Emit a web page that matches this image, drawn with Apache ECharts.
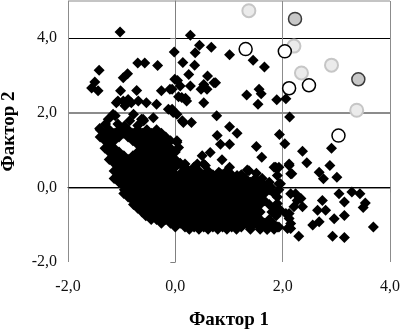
<!DOCTYPE html>
<html>
<head>
<meta charset="utf-8">
<script src="https://cdn.jsdelivr.net/npm/echarts@6/dist/echarts.min.js"></script>
<style>
  html, body { margin: 0; padding: 0; background: #fff; }
  #chart { width: 401px; height: 332px; }
</style>
</head>
<body>
<div id="chart"></div>
<script>
// scattered points around the cloud
var outerPoints = [
  [-1.03,4.17],[-1.42,3.14],[-1.50,2.83],[-1.56,2.67],[-1.44,2.59],[-0.70,3.34],[-0.57,3.34],[-0.33,3.27],
  [-0.97,2.94],[-0.89,3.05],[-0.02,3.63],[-1.02,2.59],[-0.72,2.60],[-0.26,2.59],[-0.10,2.63],[-0.01,2.90],
  [-1.07,2.32],[-0.88,2.36],[-0.69,2.32],[-0.54,2.27],[-0.35,2.23],[-0.07,2.07],[-0.60,1.83],[-0.41,1.87],
  [-1.10,2.27],[-0.94,2.19],[-0.82,2.27],[-0.13,2.10],[-0.04,2.01],[0.30,1.74],[0.15,1.74],[0.12,2.41],
  [0.21,2.32],[-0.97,2.32],[-0.78,1.96],[-0.59,1.79],
  [0.28,4.08],[0.45,3.81],[0.67,3.76],[0.37,3.61],[1.01,3.56],[1.45,3.41],[1.66,3.23],[0.14,3.35],
  [0.36,3.28],[0.25,3.03],[0.04,2.87],[0.09,2.72],[0.28,2.72],[0.53,2.76],[0.60,2.99],[0.72,2.81],
  [0.48,2.63],[0.59,2.63],[0.06,2.43],[0.19,2.39],[0.53,2.27],[1.33,2.48],[1.56,2.63],[1.60,2.51],
  [1.54,2.23],[1.89,2.35],[2.06,2.38],[-0.06,2.63],[-0.06,2.10],[0.03,1.96],[0.13,1.79],[0.77,1.92],
  [1.01,1.63],[1.15,1.45],[0.78,1.39],[1.94,1.42],[2.13,1.89],[0.75,2.81],
  [2.04,1.17],[2.37,0.97],[2.45,0.66],[2.91,1.05],[2.88,0.59],[1.51,1.10],[1.61,0.81],[2.12,0.63],
  [2.17,0.37],[2.68,0.41],[2.76,0.23],[3.01,0.27],[1.93,0.54],[3.05,-0.17],[3.29,-0.12],[3.44,-0.17],
  [3.54,-0.42],[3.50,-0.54],[3.15,-0.39],[3.15,-0.75],[2.74,-0.35],[2.80,-0.61],[2.65,-0.61],[2.96,-0.84],
  [2.68,-0.92],[2.56,-1.01],[3.69,-1.06],[2.93,-1.31],[3.15,-1.34],[2.30,-1.31],[2.24,-0.17],[2.34,-0.30],
  [2.37,-0.52],[2.21,-0.52],[1.93,0.10],[1.90,-0.26],[1.96,-0.61],[2.12,-0.70],[1.93,-1.06],[2.15,-1.10],
  [2.12,-0.83],
  [1.01,1.16],[0.84,1.16],[0.03,1.21],[0.65,0.94],[0.50,0.85],[0.87,0.74],[0.53,0.63],[1.01,0.54],
  [0.81,0.41],[1.15,0.32],[1.34,0.47],[1.51,0.38],[1.84,0.54],[1.90,0.32],[0.09,0.63],[0.25,0.41],
  [0.41,0.63],[0.56,0.59],[0.84,0.37],[1.37,0.45],[1.87,0.54],[2.12,0.59],[2.15,0.37],[1.78,0.01],
  [1.96,0.10],[2.15,-0.17],[2.27,-0.35],[1.90,-0.43],[2.06,-0.70],[2.15,-0.97],[2.09,-1.10]
];

// left arm of the cloud
var armPoints = [
  [-1.41,1.58],[-1.25,1.83],[-1.12,1.92],[-1.16,1.96],[-0.85,1.79],[-0.63,1.83],[-1.07,1.70],[-1.30,1.70],
  [-0.95,1.65],[-0.70,1.66],[0.03,1.25],[0.06,1.07],[0.18,0.63],[0.12,0.41],[0.24,0.37],[0.37,0.50],
  [-1.40,1.55],[-1.23,1.55],[-1.05,1.55],[-0.88,1.55],[-0.70,1.55],[-0.53,1.55],[-0.35,1.55],
  [-1.31,1.45],[-1.14,1.45],[-0.96,1.45],[-0.79,1.45],[-0.61,1.45],[-0.44,1.45],[-0.26,1.45],
  [-1.40,1.35],[-1.23,1.35],[-1.05,1.35],[-0.88,1.35],[-0.70,1.35],[-0.53,1.35],[-0.35,1.35],[-0.18,1.35],
  [-1.31,1.25],[-1.14,1.25],[-0.79,1.25],[-0.61,1.25],[-0.44,1.25],[-0.26,1.25],[-0.09,1.25],
  [-1.23,1.15],[-0.70,1.15],[-0.53,1.15],[-0.35,1.15],[-0.18,1.15],
  [-1.31,1.05],[-1.14,1.05],[-0.61,1.05],[-0.44,1.05],[-0.26,1.05],[-0.09,1.05],
  [-1.23,0.95],[-1.05,0.95],[-0.70,0.95],[-0.53,0.95],[-0.35,0.95],[-0.18,0.95],[0.00,0.95],
  [-1.14,0.85],[-0.96,0.85],[-0.79,0.85],[-0.61,0.85],[-0.44,0.85],[-0.26,0.85],[-0.09,0.85],
  [-1.23,0.75],[-1.05,0.75],[-0.88,0.75],[-0.70,0.75],[-0.53,0.75],[-0.35,0.75],[-0.18,0.75],[0.00,0.75],
  [-1.14,0.65],[-0.96,0.65],[-0.79,0.65],[-0.61,0.65],[-0.44,0.65],[-0.26,0.65],[-0.09,0.65],[0.09,0.65],
  [-1.05,0.55],[-0.88,0.55],[-0.70,0.55],[-0.53,0.55],[-0.35,0.55],[-0.18,0.55],[0.00,0.55],[0.18,0.55],[0.35,0.55]
];

// dense core of the cloud
var corePoints = [
  [-1.14,0.44],[-0.96,0.44],[-0.79,0.44],[-0.61,0.44],[-0.44,0.44],[-0.26,0.44],[-0.09,0.44],[0.44,0.44],[0.61,0.44],[0.96,0.44],
  [-1.05,0.34],[-0.88,0.34],[-0.70,0.34],[-0.53,0.34],[-0.35,0.34],[-0.18,0.34],[0.00,0.34],[0.18,0.34],[0.35,0.34],[0.53,0.34],[0.70,0.34],[0.88,0.34],[1.05,0.34],[1.23,0.34],
  [-1.14,0.24],[-0.96,0.24],[-0.79,0.24],[-0.61,0.24],[-0.44,0.24],[-0.26,0.24],[-0.09,0.24],[0.09,0.24],[0.26,0.24],[0.44,0.24],[0.61,0.24],[0.79,0.24],[0.96,0.24],[1.14,0.24],[1.31,0.24],[1.49,0.24],[1.62,0.24],
  [-1.05,0.14],[-0.88,0.14],[-0.70,0.14],[-0.53,0.14],[-0.35,0.14],[-0.18,0.14],[0.00,0.14],[0.18,0.14],[0.35,0.14],[0.53,0.14],[0.70,0.14],[0.88,0.14],[1.05,0.14],[1.23,0.14],[1.40,0.14],[1.58,0.14],[1.75,0.14],
  [-0.96,0.04],[-0.79,0.04],[-0.61,0.04],[-0.44,0.04],[-0.26,0.04],[-0.09,0.04],[0.09,0.04],[0.26,0.04],[0.44,0.04],[0.61,0.04],[0.79,0.04],[0.96,0.04],[1.14,0.04],[1.31,0.04],[1.49,0.04],[1.66,0.04],
  [-0.95,-0.06],[-0.88,-0.06],[-0.70,-0.06],[-0.53,-0.06],[-0.35,-0.06],[-0.18,-0.06],[0.00,-0.06],[0.18,-0.06],[0.35,-0.06],[0.53,-0.06],[0.70,-0.06],[0.88,-0.06],[1.05,-0.06],[1.23,-0.06],[1.40,-0.06],[1.58,-0.06],[1.75,-0.06],[1.93,-0.06],
  [-0.96,-0.16],[-0.79,-0.16],[-0.61,-0.16],[-0.44,-0.16],[-0.26,-0.16],[-0.09,-0.16],[0.09,-0.16],[0.26,-0.16],[0.44,-0.16],[0.61,-0.16],[0.79,-0.16],[0.96,-0.16],[1.14,-0.16],[1.31,-0.16],[1.49,-0.16],[1.66,-0.16],[1.84,-0.16],
  [-0.88,-0.26],[-0.70,-0.26],[-0.53,-0.26],[-0.35,-0.26],[-0.18,-0.26],[0.00,-0.26],[0.18,-0.26],[0.35,-0.26],[0.53,-0.26],[0.70,-0.26],[0.88,-0.26],[1.05,-0.26],[1.23,-0.26],[1.40,-0.26],[1.58,-0.26],
  [-0.79,-0.36],[-0.61,-0.36],[-0.44,-0.36],[-0.26,-0.36],[-0.09,-0.36],[0.09,-0.36],[0.26,-0.36],[0.44,-0.36],[0.61,-0.36],[0.79,-0.36],[0.96,-0.36],[1.14,-0.36],[1.31,-0.36],[1.49,-0.36],[1.66,-0.36],
  [-0.78,-0.46],[-0.70,-0.46],[-0.53,-0.46],[-0.35,-0.46],[-0.18,-0.46],[0.00,-0.46],[0.18,-0.46],[0.35,-0.46],[0.53,-0.46],[0.70,-0.46],[0.88,-0.46],[1.05,-0.46],[1.23,-0.46],[1.40,-0.46],[1.58,-0.46],[1.75,-0.46],
  [-0.70,-0.56],[-0.61,-0.56],[-0.44,-0.56],[-0.26,-0.56],[-0.09,-0.56],[0.09,-0.56],[0.26,-0.56],[0.44,-0.56],[0.61,-0.56],[0.79,-0.56],[0.96,-0.56],[1.14,-0.56],[1.31,-0.56],[1.49,-0.56],[1.84,-0.56],
  [-0.62,-0.66],[-0.53,-0.66],[-0.35,-0.66],[-0.18,-0.66],[0.00,-0.66],[0.18,-0.66],[0.35,-0.66],[0.53,-0.66],[0.70,-0.66],[0.88,-0.66],[1.05,-0.66],[1.23,-0.66],[1.40,-0.66],[1.58,-0.66],[1.80,-0.66],
  [-0.55,-0.76],[-0.44,-0.76],[-0.26,-0.76],[-0.09,-0.76],[0.09,-0.76],[0.26,-0.76],[0.44,-0.76],[0.61,-0.76],[0.79,-0.76],[0.96,-0.76],[1.14,-0.76],[1.31,-0.76],[1.49,-0.76],[1.88,-0.76],
  [-0.45,-0.86],[-0.35,-0.86],[-0.18,-0.86],[0.00,-0.86],[0.18,-0.86],[0.35,-0.86],[0.53,-0.86],[0.70,-0.86],[0.88,-0.86],[1.05,-0.86],[1.23,-0.86],[1.40,-0.86],[1.58,-0.86],[1.75,-0.86],
  [-0.26,-0.96],[-0.09,-0.96],[0.09,-0.96],[0.26,-0.96],[0.44,-0.96],[0.61,-0.96],[0.79,-0.96],[0.96,-0.96],[1.14,-0.96],[1.31,-0.96],[1.49,-0.96],[1.66,-0.96],[1.82,-0.96],
  [0.00,-1.06],[0.18,-1.06],[0.35,-1.06],[0.53,-1.06],[0.70,-1.06],[0.88,-1.06],[1.05,-1.06],[1.23,-1.06],[1.40,-1.06],[1.58,-1.06],[1.75,-1.06],[1.90,-1.06],
  [0.26,-1.12],[0.44,-1.12],[0.61,-1.12],[0.79,-1.12],[0.96,-1.12],[1.14,-1.12],[1.40,-1.12],[1.58,-1.12],[1.71,-1.13],[1.84,-1.12]
];

// marked objects
var lightCircles = [[1.37,4.74],[2.21,3.79],[2.35,3.07],[2.91,3.28],[3.38,2.07]];
var darkCircles = [[2.23,4.52],[3.41,2.90]];
var whiteCircles = [[1.31,3.71],[2.04,3.65],[2.12,2.66],[2.49,2.74],[3.04,1.39]];

var xTicks = [-2, 0, 2, 4];
var yTicks = [-2, 0, 2, 4];

var chart = echarts.init(document.getElementById('chart'));

function fmt(v) {
    return v.toFixed(1).replace('.', ',');
}

var font = 'Liberation Serif';

var option = {
    animation: false,
    grid: {
        left: 68,
        right: 11,
        top: 1,
        bottom: 70,
        containLabel: false,
        outerBoundsMode: 'none'
    },
    xAxis: {
        type: 'value',
        min: xTicks[0],
        max: xTicks[xTicks.length - 1],
        interval: 2,
        name: 'Фактор 1',
        nameLocation: 'middle',
        nameGap: 49,
        nameTextStyle: { fontFamily: font, fontSize: 19, fontWeight: 'bold', color: '#000' },
        axisLine: { lineStyle: { color: '#000', width: 1 } },
        axisTick: { show: true, length: 5, lineStyle: { color: '#808080' } },
        axisLabel: { fontFamily: font, fontSize: 16, color: '#111', margin: 17, formatter: fmt },
        splitLine: { show: true, lineStyle: { color: '#8c8c8c', width: 1 } }
    },
    yAxis: [
        {
            type: 'value',
            min: yTicks[0],
            max: 5,
            interval: 2,
            name: 'Фактор 2',
            nameLocation: 'middle',
            nameGap: 49,
            nameTextStyle: { fontFamily: font, fontSize: 19, fontWeight: 'bold', color: '#000' },
            axisLine: { show: true, lineStyle: { color: '#808080', width: 1 } },
            axisTick: { show: true, length: 5, lineStyle: { color: '#808080' } },
            axisLabel: {
                fontFamily: font, fontSize: 16, color: '#111', margin: 11,
                showMaxLabel: false,
                formatter: function (v) { return yTicks.indexOf(v) >= 0 ? fmt(v) : ''; }
            },
            splitLine: {
                show: true,
                lineStyle: { color: ['transparent', 'transparent', 'transparent', '#000', 'transparent'], width: 1 }
            }
        },
        {
            type: 'value',
            min: yTicks[0],
            max: 5,
            interval: 2,
            position: 'left',
            axisLine: { show: false },
            axisTick: { show: false },
            axisLabel: { show: false },
            splitLine: {
                show: true,
                lineStyle: { color: ['transparent', '#8c8c8c', '#8c8c8c', 'transparent', '#c4c4c4'], width: 2 }
            }
        }
    ],
    series: [
        {
            type: 'scatter',
            symbol: 'diamond',
            symbolSize: 11,
            silent: true,
            itemStyle: { color: '#000', opacity: 1 },
            data: outerPoints.concat(armPoints, corePoints)
        },
        {
            type: 'scatter',
            symbol: 'circle',
            symbolSize: 13,
            silent: true,
            itemStyle: { color: '#ebebeb', borderColor: '#c6c6c6', borderWidth: 2, opacity: 1 },
            data: lightCircles
        },
        {
            type: 'scatter',
            symbol: 'circle',
            symbolSize: 13,
            silent: true,
            itemStyle: { color: '#c8c8c8', borderColor: '#3a3a3a', borderWidth: 1.5, opacity: 1 },
            data: darkCircles
        },
        {
            type: 'scatter',
            symbol: 'circle',
            symbolSize: 13,
            silent: true,
            itemStyle: { color: '#fff', borderColor: '#000', borderWidth: 1.5, opacity: 1 },
            data: whiteCircles
        }
    ]
};

chart.setOption(option);
</script>
</body>
</html>
